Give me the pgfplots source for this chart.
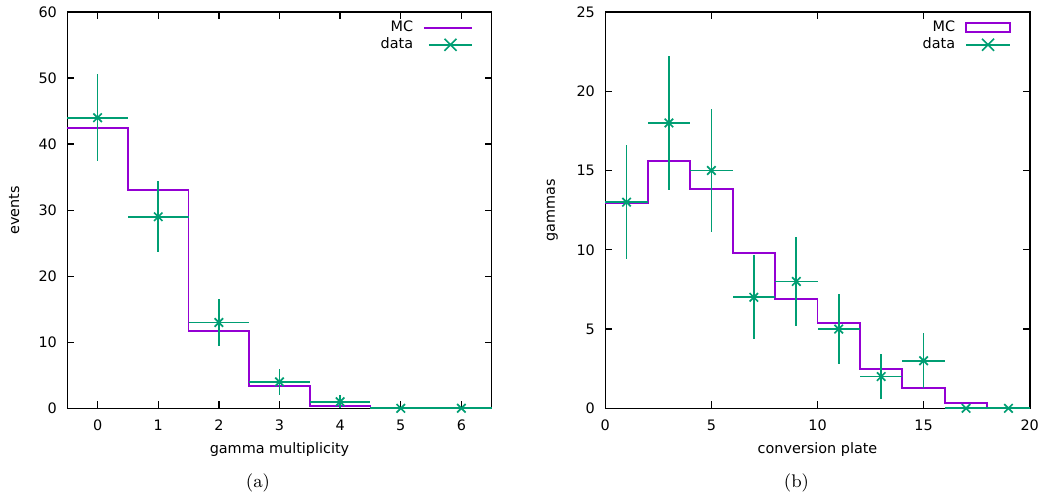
\documentclass[border=0pt]{standalone}
\usepackage{fontspec}
\usepackage{pgfplots}
\pgfplotsset{compat=1.18}
\newfontfamily\djv{DejaVu Sans}
\definecolor{mcpurple}{HTML}{9400D3}
\definecolor{datagreen}{HTML}{009E73}
\newcommand\axfont{\djv\fontsize{7.2bp}{8.6bp}\selectfont}

\pgfplotsset{gp/.style={
  scale only axis, width=212.2bp, height=198.15bp, anchor=south west,
  clip=false,
  axis line style={line width=0.8bp, black},
  tick align=inside, xtick pos=both, ytick pos=both,
  xticklabel pos=lower, yticklabel pos=left,
  major tick length=3.5bp,
  every tick/.style={line width=0.65bp, black},
  minor tick num=0,
  /pgf/number format/assume math mode=true,
  xticklabel style={anchor=base, yshift=-11.1bp, inner sep=0pt, font=\axfont},
  yticklabel style={anchor=east, xshift=-5bp, inner sep=0pt, font=\axfont},
  xlabel style={at={(axis description cs:0.5,-0.105)}, anchor=center, font=\axfont},
  ylabel style={at={(axis description cs:-0.125,0.5)}, anchor=center, font=\axfont},
  legend style={draw=none, fill=none, at={(rel axis cs:1,1)}, anchor=north east,
    xshift=-9.2bp, yshift=-4.25bp, inner sep=0pt, row sep=1.8bp, column sep=5bp,
    font=\axfont, nodes={inner sep=0pt, text height=5.2bp, text depth=1.5bp}},
  legend cell align=right, legend plot pos=right,
}}

\pgfplotstableread{
x y ex ey
0 44 0.5 6.633
1 29 0.5 5.385
2 13 0.5 3.606
3 4 0.5 2
4 1 0.5 1
5 0 0.5 0
6 0 0.5 0
}\dataA

\pgfplotstableread{
x y ex ey
1 13 1 3.606
3 18 1 4.243
5 15 1 3.873
7 7 1 2.646
9 8 1 2.828
11 5 1 2.236
13 2 1 1.414
15 3 1 1.732
17 0 1 0
19 0 1 0
}\dataB

\begin{document}
\begin{tikzpicture}
\useasboundingbox (0,0) rectangle (521.5bp,248.5bp);

\begin{axis}[gp, at={(33.65bp,44.35bp)},
  xmin=-0.5, xmax=6.5, ymin=0, ymax=60,
  xtick={0,1,2,3,4,5,6}, ytick={0,10,20,30,40,50,60},
  xlabel={gamma multiplicity}, ylabel={events}]
\addplot[const plot mark left, mcpurple, line width=0.9bp,
  legend image code/.code={\draw[mcpurple, line width=0.9bp] (-2.5bp,0bp) -- (21.5bp,0bp);}]
  coordinates {(-0.5,42.4) (0.5,33.1) (1.5,11.7) (2.5,3.42) (3.5,0.4) (4.5,0.1) (5.5,0)};
\addlegendentry{MC}
\addplot[only marks, datagreen, mark=x, mark size=3bp, line width=0.85bp,
  error bars/.cd, x dir=both, x explicit, y dir=both, y explicit, error mark=none,
  error bar style={line width=0.85bp, datagreen},
  /pgfplots/legend image code/.code={\draw[datagreen, line width=0.85bp] (0bp,0bp) -- (21.5bp,0bp);
    \draw[datagreen, line width=0.85bp] (7.75bp,-3bp) -- (13.75bp,3bp) (7.75bp,3bp) -- (13.75bp,-3bp);}]
  table[x=x, y=y, x error=ex, y error=ey] {\dataA};
\addlegendentry{data}
\end{axis}

\begin{axis}[gp, at={(302.65bp,44.35bp)},
  xmin=0, xmax=20, ymin=0, ymax=25,
  xtick={0,5,10,15,20}, ytick={0,5,10,15,20,25},
  xlabel={conversion plate}, ylabel={gammas}]
\addplot[const plot mark left, mcpurple, line width=0.9bp,
  legend image code/.code={\draw[mcpurple, line width=0.9bp] (0bp,-2.25bp) rectangle (22bp,2.25bp);}]
  coordinates {(0,12.92) (2,15.61) (4,13.83) (6,9.78) (8,6.92) (10,5.37) (12,2.5) (14,1.28) (16,0.35) (18,0)};
\addlegendentry{MC}
\addplot[only marks, datagreen, mark=x, mark size=3bp, line width=0.85bp,
  error bars/.cd, x dir=both, x explicit, y dir=both, y explicit, error mark=none,
  error bar style={line width=0.85bp, datagreen},
  /pgfplots/legend image code/.code={\draw[datagreen, line width=0.85bp] (0bp,0bp) -- (22bp,0bp);
    \draw[datagreen, line width=0.85bp] (8bp,-3bp) -- (14bp,3bp) (8bp,3bp) -- (14bp,-3bp);}]
  table[x=x, y=y, x error=ex, y error=ey] {\dataB};
\addlegendentry{data}
\end{axis}

\node[font=\fontsize{9.15bp}{11bp}\selectfont] at (129bp,7.25bp) {(a)};
\node[font=\fontsize{9.15bp}{11bp}\selectfont] at (398.25bp,7.25bp) {(b)};
\end{tikzpicture}
\end{document}
